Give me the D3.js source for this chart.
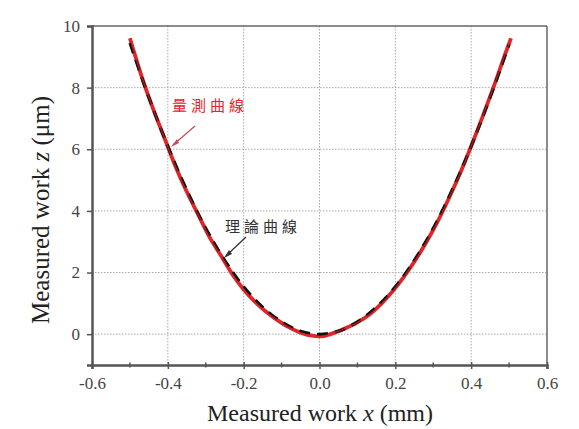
<!DOCTYPE html>
<html><head><meta charset="utf-8">
<script src="https://cdn.jsdelivr.net/npm/d3@7"></script>
<style>body{margin:0;background:#fff}svg{display:block}</style>
</head><body>
<svg id="c" width="579" height="429"></svg>
<script>
const xTicks = [-0.6, -0.4, -0.2, 0.0, 0.2, 0.4, 0.6];
const xTickLabels = ["-0.6", "-0.4", "-0.2", "0.0", "0.2", "0.4", "0.6"];
const yTicks = [0, 2, 4, 6, 8, 10];
const xMinorTicks = [-0.5, -0.3, -0.1, 0.1, 0.3, 0.5];
const theoryX = [-0.5, -0.45, -0.4, -0.35, -0.3, -0.25, -0.2, -0.15, -0.1, -0.05, 0, 0.05, 0.1, 0.15, 0.2, 0.25, 0.3, 0.35, 0.4, 0.45, 0.5];
const theoryZ = [9.45, 7.68, 6.1, 4.68, 3.44, 2.4, 1.54, 0.88, 0.4, 0.1, 0.0, 0.1, 0.4, 0.88, 1.54, 2.4, 3.44, 4.68, 6.1, 7.68, 9.4];
const measX = [-0.5, -0.47, -0.44, -0.41, -0.38, -0.35, -0.32, -0.29, -0.26, -0.23, -0.2, -0.17, -0.14, -0.11, -0.08, -0.05, -0.02, 0.01, 0.04, 0.07, 0.1, 0.13, 0.16, 0.19, 0.22, 0.25, 0.28, 0.31, 0.34, 0.37, 0.4, 0.43, 0.46, 0.49, 0.505];
const measZ = [9.6, 8.4, 7.35, 6.4, 5.45, 4.62, 3.88, 3.15, 2.55, 1.95, 1.45, 1.05, 0.72, 0.45, 0.22, 0.05, -0.05, -0.06, 0.05, 0.2, 0.38, 0.62, 0.95, 1.35, 1.82, 2.35, 2.95, 3.62, 4.38, 5.2, 6.1, 7.05, 8.05, 9.1, 9.6];
const xTitle = "Measured work ";
const yTitle = "Measured work ";
const label1 = "量測曲線";
const label2 = "理論曲線";

const svg = d3.select("#c");
const L = 92, R = 547, T = 26, B = 365;
const x = d3.scaleLinear().domain([-0.6, 0.6]).range([L, R]);
const y = d3.scaleLinear().domain([-1, 10]).range([B, T]);
const axisCol = "#555";
const serif = "'Liberation Serif','Times New Roman',serif";

// grid
const g = svg.append("g");
g.selectAll(".gx").data(xTicks.slice(1, -1)).enter().append("line")
  .attr("x1", d => x(d)).attr("x2", d => x(d)).attr("y1", T).attr("y2", B)
  .attr("stroke", "#aaa").attr("stroke-width", 1).attr("stroke-dasharray", "1.5,1.5");
g.selectAll(".gy").data(yTicks.slice(0, -1)).enter().append("line")
  .attr("x1", L).attr("x2", R).attr("y1", d => y(d)).attr("y2", d => y(d))
  .attr("stroke", "#aaa").attr("stroke-width", 1).attr("stroke-dasharray", "1.5,1.5");

// box top/right
svg.append("line").attr("x1", L).attr("x2", R).attr("y1", T).attr("y2", T).attr("stroke", "#666").attr("stroke-width", 1.5);
svg.append("line").attr("x1", R).attr("x2", R).attr("y1", T).attr("y2", B).attr("stroke", "#666").attr("stroke-width", 1.5);

// curves
const lineT = d3.line().x(d => x(d[0])).y(d => y(d[1])).curve(d3.curveCatmullRom);
const measData = measX.map((v, i) => [v, measZ[i]]);
const theoData = theoryX.map((v, i) => [v, theoryZ[i]]);
svg.append("path").attr("d", lineT(measData)).attr("fill", "none")
  .attr("stroke", "#e0262a").attr("stroke-width", 3.8).attr("stroke-linejoin", "round");
svg.append("path").attr("d", lineT(theoData)).attr("fill", "none")
  .attr("stroke", "#111").attr("stroke-width", 3).attr("stroke-dasharray", "11,7");
svg.append("path").attr("d", lineT(measData)).attr("fill", "none")
  .attr("stroke", "#e0262a").attr("stroke-width", 1.2).attr("opacity", 0.8);

// axes
const xAxis = d3.axisBottom(x).tickValues(xTicks).tickFormat((d, i) => xTickLabels[i]).tickSize(4).tickPadding(8);
const gx = svg.append("g").attr("transform", `translate(0,${B})`).call(xAxis);
gx.attr("font-family", serif).attr("font-size", 17);
gx.select(".domain").attr("stroke", axisCol).attr("stroke-width", 2.5);
gx.selectAll(".tick line").attr("stroke", axisCol).attr("stroke-width", 1.5).attr("y1", -3);
gx.selectAll(".tick text").attr("fill", "#444");
svg.append("g").selectAll("line").data(xMinorTicks).enter().append("line")
  .attr("x1", d => x(d)).attr("x2", d => x(d)).attr("y1", B - 2.5).attr("y2", B + 2.5)
  .attr("stroke", axisCol).attr("stroke-width", 1.5);

const yAxis = d3.axisLeft(y).tickValues(yTicks).tickSize(5).tickPadding(7);
const gy = svg.append("g").attr("transform", `translate(${L},0)`).call(yAxis);
gy.attr("font-family", serif).attr("font-size", 17);
gy.select(".domain").attr("stroke", axisCol).attr("stroke-width", 2.5);
gy.selectAll(".tick line").attr("stroke", axisCol).attr("stroke-width", 1.5);
gy.selectAll(".tick text").attr("fill", "#444");

// titles
const xt = svg.append("text").attr("x", 320).attr("y", 421).attr("text-anchor", "middle")
  .attr("font-family", serif).attr("font-size", 24).attr("fill", "#222");
xt.append("tspan").text(xTitle);
xt.append("tspan").attr("font-style", "italic").text("x");
xt.append("tspan").text(" (mm)");

const yt = svg.append("text").attr("transform", `translate(49,210) rotate(-90)`).attr("text-anchor", "middle")
  .attr("font-family", serif).attr("font-size", 25).attr("fill", "#222");
yt.append("tspan").text(yTitle);
yt.append("tspan").attr("font-style", "italic").text("z");
yt.append("tspan").text(" (μm)");

// annotations
svg.append("text").attr("x", 172).attr("y", 111).attr("font-family", "'Noto Sans CJK TC',sans-serif")
  .attr("font-size", 15).attr("fill", "#e0262a").attr("letter-spacing", 4).text(label1);
svg.append("line").attr("x1", 195).attr("y1", 126).attr("x2", 173).attr("y2", 145)
  .attr("stroke", "#c05060").attr("stroke-width", 1.3);
svg.append("path").attr("d", "M171,147 L177,139 L179,143 Z").attr("fill", "#c05060");

svg.append("text").attr("x", 225).attr("y", 232).attr("font-family", "'Noto Sans CJK TC',sans-serif")
  .attr("font-size", 15).attr("fill", "#333").attr("letter-spacing", 4).text(label2);
svg.append("line").attr("x1", 246).attr("y1", 237).attr("x2", 226).attr("y2", 256)
  .attr("stroke", "#333").attr("stroke-width", 1.3);
svg.append("path").attr("d", "M224,258 L229,250 L232,254 Z").attr("fill", "#333");
</script>
</body></html>
